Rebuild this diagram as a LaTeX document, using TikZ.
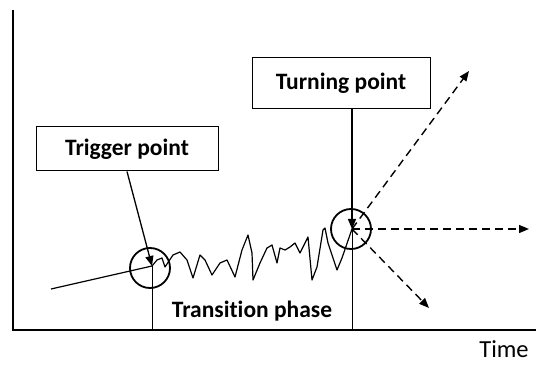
\documentclass[tikz,border=0pt]{standalone}
\usepackage{fontspec}
\setmainfont{Carlito}[Ligatures=NoCommon]
\usetikzlibrary{arrows.meta,positioning,calc}

\begin{document}
\begin{tikzpicture}[
    x=1pt, y=-1pt,
    >={Triangle[length=10pt,width=8pt]},
    labelbox/.style={
        rectangle,
        draw,
        line width=1pt,
        inner sep=0pt,
        align=center,
        font=\fontsize{23.5}{26}\selectfont\bfseries
    },
    ring/.style={
        circle,
        draw,
        line width=1.8pt,
        minimum size=40pt,
        inner sep=0pt
    },
    axisline/.style={draw, line width=1.4pt},
    pointer/.style={draw, ->, line width=1.3pt},
    guide/.style={draw, line width=1pt},
    outcome/.style={draw, ->, dashed, dash pattern=on 8pt off 5pt, line width=1.4pt},
    signal/.style={draw, line width=1.2pt, line join=round},
    plaintext/.style={font=\fontsize{24.5}{27}\selectfont, inner sep=0pt}
]

\useasboundingbox (0,0) rectangle (536,366);

% --- AXES ---
\coordinate (origin) at (13,330);
\coordinate (ytop) at (13,10);
\coordinate (xend) at (536,330);
\draw[axisline] (ytop) -- (origin) -- (xend);
\node[plaintext, anchor=base] (timelabel) at (504,358) {Time};

% --- KEY POINTS ---
\coordinate (trigpt) at (152,266);
\coordinate (turnpt) at (352,229);
\node[ring] (trigring) at (150,268) {};
\node[ring] (turnring) at (351,229) {};

% --- LABEL BOXES ---
\node[labelbox, minimum width=182pt, minimum height=44pt] (trigbox) at (127,149) {Trigger point};
\node[labelbox, minimum width=178pt, minimum height=51pt] (turnbox) at (341,83) {Turning point};
\node[font=\fontsize{23.5}{26}\selectfont\bfseries] (phase) at (252,311) {Transition phase};

% --- PHASE BORDERS ---
\draw[guide] (trigpt) -- (trigpt |- origin);
\draw[guide] (turnpt) -- (turnpt |- origin);

% --- POINTERS ---
\draw[pointer] (trigbox.south) -- (trigpt);
\draw[pointer] (turnbox.south -| turnpt) -- (turnpt);

% --- SIGNAL ---
\coordinate (lead) at (51,289);
\draw[signal] (lead) -- (trigpt);
\draw[signal] (trigpt) -- (157,260) -- (162,258) -- (165,267) -- (173,255)
    -- (180,252) -- (187,260) -- (193,278) -- (200,255) -- (205,260)
    -- (212,275) -- (220,263) -- (227,260) -- (235,277) -- (242,250)
    -- (248,235) -- (252,253) -- (253,280) -- (260,263) -- (267,248)
    -- (272,245) -- (277,263) -- (280,248) -- (285,250) -- (290,247)
    -- (295,243) -- (300,253) -- (308,237) -- (312,280) -- (317,267)
    -- (323,230) -- (325,228) -- (328,243) -- (337,270) -- (342,258)
    -- (turnpt);

% --- POSSIBLE OUTCOMES ---
\coordinate (up) at (469,71);
\coordinate (flat) at (529,229);
\coordinate (down) at (429,308);
\draw[outcome] (turnpt) -- (up);
\draw[outcome] (turnpt) -- (flat);
\draw[outcome] (turnpt) -- (down);

\end{tikzpicture}
\end{document}
